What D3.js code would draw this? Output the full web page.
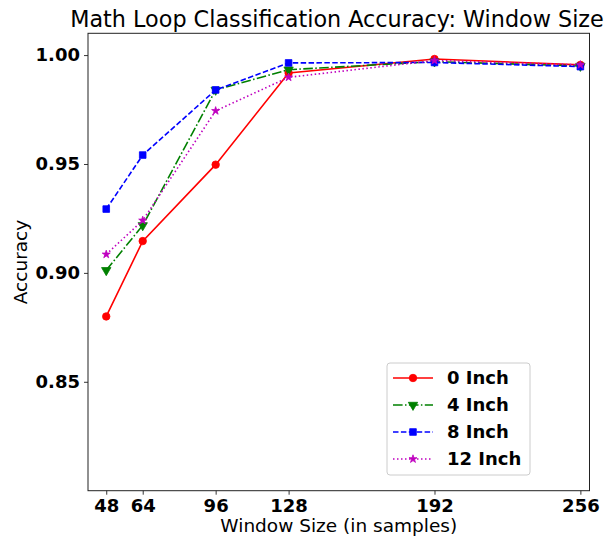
<!DOCTYPE html>
<html><head><meta charset="utf-8">
<script src="https://cdn.jsdelivr.net/npm/d3@7"></script>
<style>body{margin:0;background:#fff}svg{display:block}</style>
</head><body>
<script>
const windowSizes = [48, 64, 96, 128, 192, 256];
const xTicks = [48, 64, 96, 128, 192, 256];
const yTicks = [0.85, 0.90, 0.95, 1.00];
const acc0 = [0.880, 0.9146, 0.9497, 0.9918, 0.9982, 0.9955];
const acc4 = [0.9012, 0.9218, 0.9840, 0.9933, 0.9970, 0.9950];
const acc8 = [0.9293, 0.9541, 0.9840, 0.9964, 0.9966, 0.9947];
const acc12 = [0.9085, 0.9241, 0.9744, 0.9898, 0.9975, 0.9955];
const seriesNames = ["0 Inch", "4 Inch", "8 Inch", "12 Inch"];

const series = [
  {name: seriesNames[0], vals: acc0, color: "#ff0000", dash: null, marker: "circle"},
  {name: seriesNames[1], vals: acc4, color: "#008000", dash: "9.6,2.4,1.5,2.4", marker: "tri"},
  {name: seriesNames[2], vals: acc8, color: "#0000ff", dash: "5.5,2.4", marker: "square"},
  {name: seriesNames[3], vals: acc12, color: "#bf00bf", dash: "1.5,2.5", marker: "star"}
];

const W = 609, H = 538;
const m = {left: 88, right: 589.5, top: 33.3, bottom: 490.7};
const svg = d3.select("body").append("svg").attr("width", W).attr("height", H);

const x = d3.scaleLinear().domain([40, 260]).range([m.left, m.right]);
const y = d3.scaleLinear().domain([0.80, 1.01]).range([m.bottom, m.top]);

const font = "DejaVu Sans, sans-serif";

// axes
const xAxis = svg.append("g").attr("transform", `translate(0,${m.bottom})`)
  .call(d3.axisBottom(x).tickValues(xTicks).tickFormat(d3.format("d")).tickSize(4).tickPadding(3));
const yAxis = svg.append("g").attr("transform", `translate(${m.left},0)`)
  .call(d3.axisLeft(y).tickValues(yTicks).tickFormat(d3.format(".2f")).tickSize(4).tickPadding(4));
[xAxis, yAxis].forEach(g => {
  g.select(".domain").remove();
  g.selectAll(".tick line").attr("stroke", "#000").attr("stroke-width", 0.8);
  g.selectAll(".tick text").attr("font-family", font).attr("font-weight", "bold")
    .attr("font-size", 18).attr("fill", "#000");
});
xAxis.selectAll(".tick text").attr("dy", "0.78em");

// frame
svg.append("rect").attr("x", m.left).attr("y", m.top)
  .attr("width", m.right - m.left).attr("height", m.bottom - m.top)
  .attr("fill", "none").attr("stroke", "#222").attr("stroke-width", 1);

const plot = svg.append("g");
const line = d3.line().x((d, i) => x(windowSizes[i])).y(d => y(d));

const star = d3.symbol().type(d3.symbolStar).size(20);
const tri = d3.symbol().type(d3.symbolTriangle).size(38);
const sq = d3.symbol().type(d3.symbolSquare).size(44);
const circ = d3.symbol().type(d3.symbolCircle).size(44);
function drawMarker(g, type, cx, cy, color) {
  let p;
  if (type === "circle") p = g.append("path").attr("d", circ());
  else if (type === "tri") p = g.append("path").attr("d", tri()).attr("transform", `translate(${cx},${cy}) rotate(180)`);
  else if (type === "square") p = g.append("path").attr("d", sq());
  else p = g.append("path").attr("d", star());
  if (type !== "tri") p.attr("transform", `translate(${cx},${cy})`);
  p.attr("fill", color).attr("stroke", color).attr("stroke-width", 0.8);
}

series.forEach(s => {
  plot.append("path").datum(s.vals).attr("d", line)
    .attr("fill", "none").attr("stroke", s.color).attr("stroke-width", 1.6)
    .attr("stroke-dasharray", s.dash);
  s.vals.forEach((v, i) => drawMarker(plot, s.marker, x(windowSizes[i]), y(v), s.color));
});

// title & labels
svg.append("text").attr("x", 337).attr("y", 27)
  .attr("text-anchor", "middle").attr("font-family", font).attr("font-size", 22.3)
  .attr("fill", "#000").text("Math Loop Classification Accuracy: Window Size");
svg.append("text").attr("x", (m.left + m.right) / 2).attr("y", 532)
  .attr("text-anchor", "middle").attr("font-family", font).attr("font-size", 18.5)
  .attr("fill", "#000").text("Window Size (in samples)");
svg.append("text").attr("transform", `translate(27,${(m.top + m.bottom) / 2}) rotate(-90)`)
  .attr("text-anchor", "middle").attr("font-family", font).attr("font-size", 18.5)
  .attr("fill", "#000").text("Accuracy");

// legend
const lg = svg.append("g").attr("transform", "translate(387,363)");
lg.append("rect").attr("x", 0).attr("y", 0).attr("width", 143).attr("height", 112)
  .attr("rx", 3).attr("fill", "#fff").attr("fill-opacity", 0.8)
  .attr("stroke", "#ccc").attr("stroke-width", 1);
series.forEach((s, i) => {
  const cy = 15 + i * 27;
  lg.append("line").attr("x1", 6).attr("x2", 46).attr("y1", cy).attr("y2", cy)
    .attr("stroke", s.color).attr("stroke-width", 1.6).attr("stroke-dasharray", s.dash);
  drawMarker(lg, s.marker, 26, cy, s.color);
  lg.append("text").attr("x", 60).attr("y", cy).attr("dy", "0.35em")
    .attr("font-family", font).attr("font-weight", "bold").attr("font-size", 18)
    .attr("fill", "#000").text(s.name);
});
</script>
</body></html>
